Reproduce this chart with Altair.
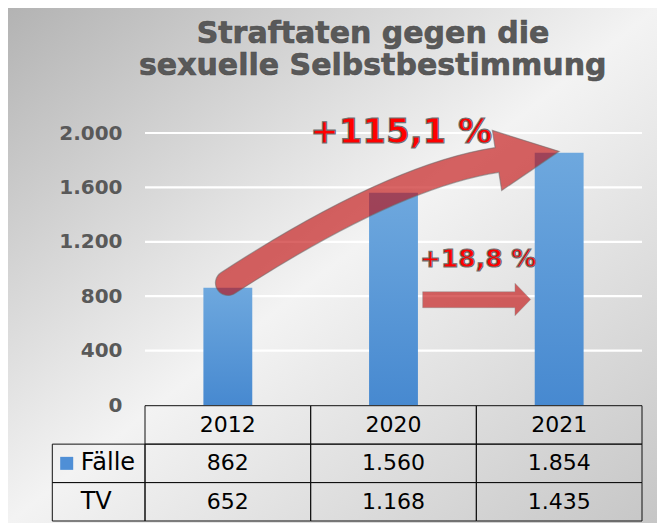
import altair as alt
import pandas as pd

# ---------------- data ----------------
years = ["2012", "2020", "2021"]
faelle = [862, 1560, 1854]
tv = [652, 1168, 1435]
row_keys = ["header", "Fälle", "TV"]
row_labels = ["Fälle", "TV"]
y_ticks = [0, 400, 800, 1200, 1600, 2000]
title_lines = ["Straftaten gegen die", "sexuelle Selbstbestimmung"]
change_labels = ["+115,1 %", "+18,8 %"]


def de(n):
    return f"{n:,}".replace(",", ".")


W, H = 497, 272
PAD = {"left": 137, "top": 125, "right": 15, "bottom": 118}

x_scale = alt.Scale(type="band", domain=years, paddingInner=0, paddingOuter=0)
y_scale = alt.Scale(domain=[0, 2000], nice=False, zero=True)
y_axis = alt.Axis(
    values=y_ticks,
    labelExpr="replace(format(datum.value, ','), ',', '.')",
    labelFont="DejaVu Sans",
    labelFontWeight="bold",
    labelFontSize=20,
    labelColor="#595959",
    ticks=False,
    domain=False,
    grid=False,
    labelPadding=23,
    title=None,
    zindex=1,
)
t_scale = alt.Scale(type="band", domain=row_keys, range=[272.7, 388],
                    paddingInner=0, paddingOuter=0)

X = alt.X("year:N", scale=x_scale, axis=None)
Y = alt.Y("value:Q", scale=y_scale, axis=y_axis)
YT = alt.Y("row:N", scale=t_scale, axis=None)

bars_df = pd.DataFrame({"year": years, "value": faelle})
grid_df = pd.DataFrame({"value": y_ticks[1:]})
tip_df = pd.DataFrame({"year": [years[2]], "value": [faelle[2]], "label": [change_labels[0]]})
base_df = pd.DataFrame({"year": [years[2]], "value": [0], "label": [change_labels[1]]})

# ---------------- styles ----------------
bg_grad = alt.LinearGradient(
    gradient="linear",
    stops=[alt.GradientStop(color="#b3b3b3", offset=0),
           alt.GradientStop(color="#f3f3f3", offset=0.5),
           alt.GradientStop(color="#c6c6c6", offset=1)],
    x1=0, y1=0, x2=1, y2=1,
)
bar_grad = alt.LinearGradient(
    gradient="linear",
    stops=[alt.GradientStop(color="#6ea8de", offset=0),
           alt.GradientStop(color="#4789d0", offset=1)],
    x1=0, y1=0, x2=0, y2=1,
)

CURVE = ("M-338,119.6Q-171.3,11.2 -64.1,-5.25L-66.8,-22.5L0,-1.5L-57.5,37.7"
         "L-60.3,19.45Q-162.1,35.1 -324.4,140.6A12.5,12.5 0 0 1 -338,119.6Z")
STRAIGHT = ("M-136.5,-113.3L-44.2,-113.3L-44.2,-121.7L-28.5,-105.5L-44.2,-89.3"
            "L-44.2,-97.3L-136.5,-97.3Z")

# ---------------- plot layers ----------------
bg = alt.Chart(alt.Data(values=[{"k": 1}])).mark_rect(fill=bg_grad).encode(
    x=alt.value(-PAD["left"]), x2=alt.value(W + PAD["right"]),
    y=alt.value(-PAD["top"]), y2=alt.value(H + PAD["bottom"]),
)

grid = alt.Chart(grid_df).mark_rule(color="white", strokeWidth=2.2).encode(y=Y)

bars = alt.Chart(bars_df).mark_bar(
    width=alt.RelativeBandSize(band=0.295), color=bar_grad
).encode(x=X, y=Y)

curve_arrow = alt.Chart(tip_df).mark_point(
    shape=CURVE, size=4, filled=True, fill="#c00000", fillOpacity=0.6,
    stroke="#6e6e6e", strokeOpacity=0.55, strokeWidth=1.2, opacity=1,
).encode(x=X, y=Y)

straight_arrow = alt.Chart(base_df).mark_point(
    shape=STRAIGHT, size=4, filled=True, fill="#c00000", fillOpacity=0.6,
    stroke="#8a8a8a", strokeOpacity=0.4, strokeWidth=1, opacity=1,
).encode(x=X, y=Y)

txt_style = dict(font="DejaVu Sans", fontWeight="bold", fill="#ff0000",
                 stroke="#707070", strokeWidth=1.2, align="center",
                 baseline="alphabetic")
t115 = alt.Chart(tip_df).mark_text(fontSize=34, dx=-158, dy=-9.6, **txt_style).encode(
    x=X, y=Y, text="label:N")
t188 = alt.Chart(base_df).mark_text(fontSize=25, dx=-81, dy=-138, **txt_style).encode(
    x=X, y=Y, text="label:N")

title_layers = []
for i, (tx, ty) in enumerate([(228, -89.7), (227.7, -58)]):
    d = alt.Data(values=[{"t": title_lines[i]}])
    title_layers.append(
        alt.Chart(d).mark_text(
            font="DejaVu Sans", fontSize=30, fontWeight="bold",
            align="center", baseline="alphabetic", color="#595959",
            stroke="#4d4d4d", strokeWidth=0.6,
        ).encode(x=alt.value(tx), y=alt.value(ty), text="t:N"))

plot = alt.layer(bg, grid, bars, curve_arrow, straight_arrow, t115, t188, *title_layers)

# ---------------- table layers ----------------
rows = []
for i, yr in enumerate(years):
    rows.append({"row": "header", "year": yr, "text": yr})
    rows.append({"row": "Fälle", "year": yr, "text": de(faelle[i])})
    rows.append({"row": "TV", "year": yr, "text": de(tv[i])})
table_df = pd.DataFrame(rows)
label_df = pd.DataFrame({"row": row_labels, "text": row_labels})
legend_df = pd.DataFrame({"row": [row_labels[0]]})

cells = alt.Chart(table_df).mark_rect(
    color="white", fillOpacity=0, stroke="#111111", strokeWidth=1
).encode(x=X, y=YT)
cell_text = alt.Chart(table_df).mark_text(
    font="DejaVu Sans", fontSize=22, color="black", baseline="middle"
).encode(x=X, y=YT, text="text:N")
label_cells = alt.Chart(label_df).mark_rect(
    color="white", fillOpacity=0, stroke="#111111", strokeWidth=1
).encode(x=alt.value(-92.7), x2=alt.value(0), y=YT)
label_text = alt.Chart(label_df).mark_text(
    font="DejaVu Sans", fontSize=24, color="black", align="left", baseline="middle"
).encode(x=alt.value(-64.3), y=YT, text="text:N")
legend_sq = alt.Chart(legend_df).mark_square(
    size=169, color="#4f8fd6", opacity=1
).encode(x=alt.value(-78.3), y=YT)

table = alt.layer(cells, label_cells, cell_text, label_text, legend_sq)

chart = alt.layer(plot, table).resolve_scale(y="independent").properties(
    width=W, height=H, padding=PAD,
    autosize=alt.AutoSizeParams(type="none"),
    background="white",
).configure_view(strokeWidth=0)

chart.save("out.html", embed_options={"renderer": "svg", "actions": False})
